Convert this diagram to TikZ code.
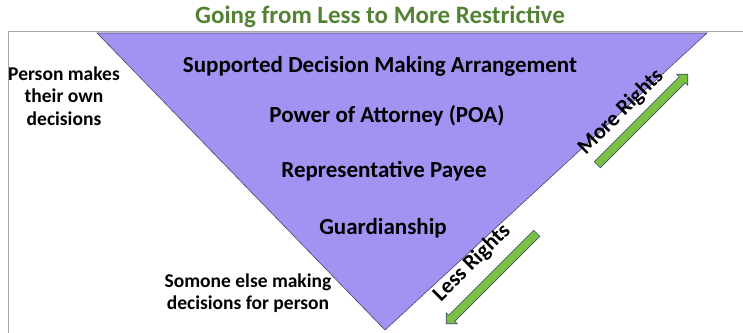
\documentclass[tikz,border=0pt]{standalone}
\usepackage{fontspec}
\setmainfont{Carlito}
\usetikzlibrary{shapes.arrows}
\definecolor{titlegreen}{RGB}{84,130,53}
\definecolor{funnel}{RGB}{164,146,243}
\definecolor{funneledge}{RGB}{62,74,110}
\definecolor{arrowgreen}{RGB}{122,192,70}

\tikzset{
  step label/.style={font=\bfseries\fontsize{23}{26}\selectfont},
  side label/.style={font=\bfseries\fontsize{19.5}{22.5}\selectfont,align=center},
  rights label/.style={font=\bfseries\fontsize{22}{26}\selectfont,rotate=45},
  rights arrow/.style={single arrow,draw=funneledge,fill=arrowgreen,line width=0.6pt,
    minimum height=128pt,minimum width=0pt,inner xsep=0pt,inner ysep=4pt,
    single arrow head extend=3.5pt,single arrow head indent=0pt}
}

\begin{document}
\begin{tikzpicture}[x=1pt,y=-1pt]
            \useasboundingbox (0,0) rectangle (743,332);
            % frame and funnel
            \draw[gray!70,line width=0.8pt] (743,31) -- (8,31) -- (8,333);
            \coordinate (tl) at (97,33);
            \coordinate (tr) at (707,33);
            \coordinate (tip) at (385,330);
            \draw[funneledge,fill=funnel,line width=0.6pt] (tl) -- (tr) -- (tip) -- cycle;
            \node (title) at (380,17) [font=\bfseries\fontsize{25}{28}\selectfont,text=titlegreen] {Going from Less to More Restrictive};
            \node (sdm) at (380,66) [step label] {Supported Decision Making Arrangement};
            \node (poa) at (387,116) [step label] {Power of Attorney (POA)};
            \node (payee) at (384,171) [step label] {Representative Payee};
            \node (guard) at (383,228) [step label] {Guardianship};
            \node (own) at (64,96) [side label] {Person makes\\their own\\decisions};
            \node (else) at (248,293) [side label] {Somone else making\\decisions for person};
            % rights arrows
            \node (more) at (641,121) [rights arrow,rotate=45] {};
            \node (moretext) at (621,112) [rights label] {More Rights};
            \node (less) at (493,277) [rights arrow,rotate=225] {};
            \node (lesstext) at (472,263) [rights label] {Less Rights};
        \end{tikzpicture}
\end{document}
